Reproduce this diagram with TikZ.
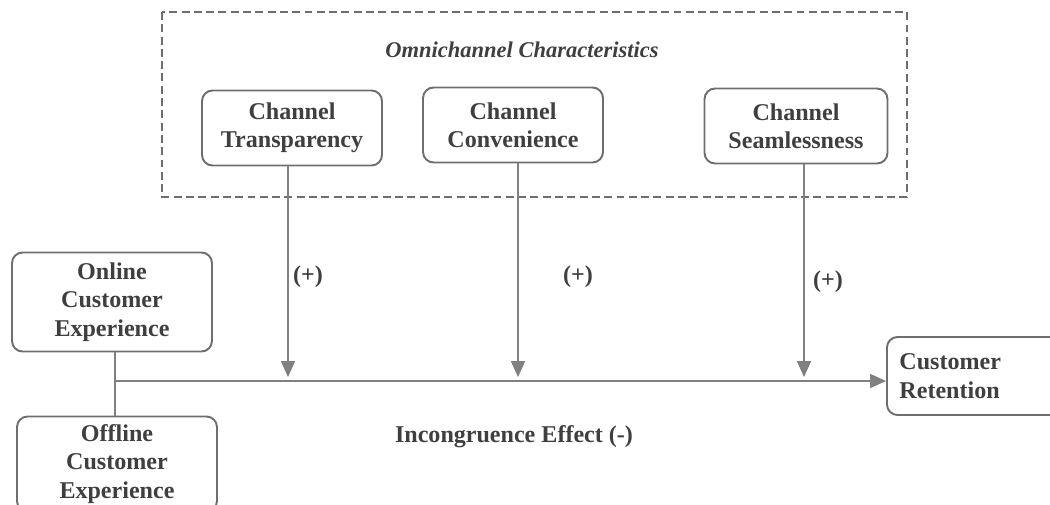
\documentclass[tikz,border=0pt]{standalone}
\usepackage{fontspec}
\setmainfont{Liberation Serif}
\usepackage{xcolor}
\usetikzlibrary{arrows.meta, positioning}
\definecolor{linegray}{HTML}{808080}
\definecolor{boxgray}{HTML}{6E6E6E}
\definecolor{textgray}{HTML}{3F3F3F}

\begin{document}
\begin{tikzpicture}[
    x=0.02cm, y=-0.02cm,
    box/.style={draw=boxgray, line width=1.1pt, rounded corners=6pt, minimum width=3.6cm, minimum height=1.5cm, align=center, font=\fontsize{13.7}{16.2}\selectfont\bfseries, text=textgray},
    arr/.style={-{Triangle[length=9pt, width=8pt]}, draw=linegray, fill=linegray, line width=0.6pt},
    lnk/.style={draw=linegray, line width=0.6pt},
    lbl/.style={font=\fontsize{13.7}{16.2}\selectfont\bfseries, text=textgray}
  ]
  \useasboundingbox (0,0) rectangle (1050,504);

  % omnichannel group
  \draw[boxgray, line width=1.1pt, dash pattern=on 4.5pt off 2.5pt] (162,12) rectangle (907,197);
  \node[lbl, font=\fontsize{12.8}{15}\selectfont\bfseries\itshape] (omni) at (522,50) {Omnichannel Characteristics};

  \node[box] (trans) at (292,128) {Channel\\Transparency};
  \node[box] (conv) at (513,125) {Channel\\Convenience};
  \node[box, minimum width=3.66cm] (seam) at (796,126) {Channel\\Seamlessness};

  % experiences and outcome
  \node[box, minimum width=4cm, minimum height=1.98cm] (online) at (112,302) {Online\\Customer\\Experience};
  \node[box, minimum width=4cm, minimum height=1.9cm] (offline) at (117,464) {Offline\\Customer\\Experience};
  \node[box, minimum width=3.6cm, minimum height=1.56cm, align=left, anchor=west, text width=3.1cm] (retention) at (886,376) {Customer\\Retention};

  \coordinate (join) at (115,381);
  \coordinate (tip1) at (288,377);
  \coordinate (tip2) at (518,377);
  \coordinate (tip3) at (804,377);

  \draw[lnk] (online.south -| join) -- (offline.north -| join);
  \draw[arr] (join) -- (retention.west |- join);

  \draw[arr] (trans.south -| tip1) -- (tip1);
  \draw[arr] (conv.south -| tip2) -- (tip2);
  \draw[arr] (seam.south -| tip3) -- (tip3);

  \node[lbl] (plus1) at (308,277) {(+)};
  \node[lbl] (plus2) at (578,277) {(+)};
  \node[lbl] (plus3) at (828,282) {(+)};

  \node[lbl] (incong) at (514,437) {Incongruence Effect (-)};
\end{tikzpicture}
\end{document}
